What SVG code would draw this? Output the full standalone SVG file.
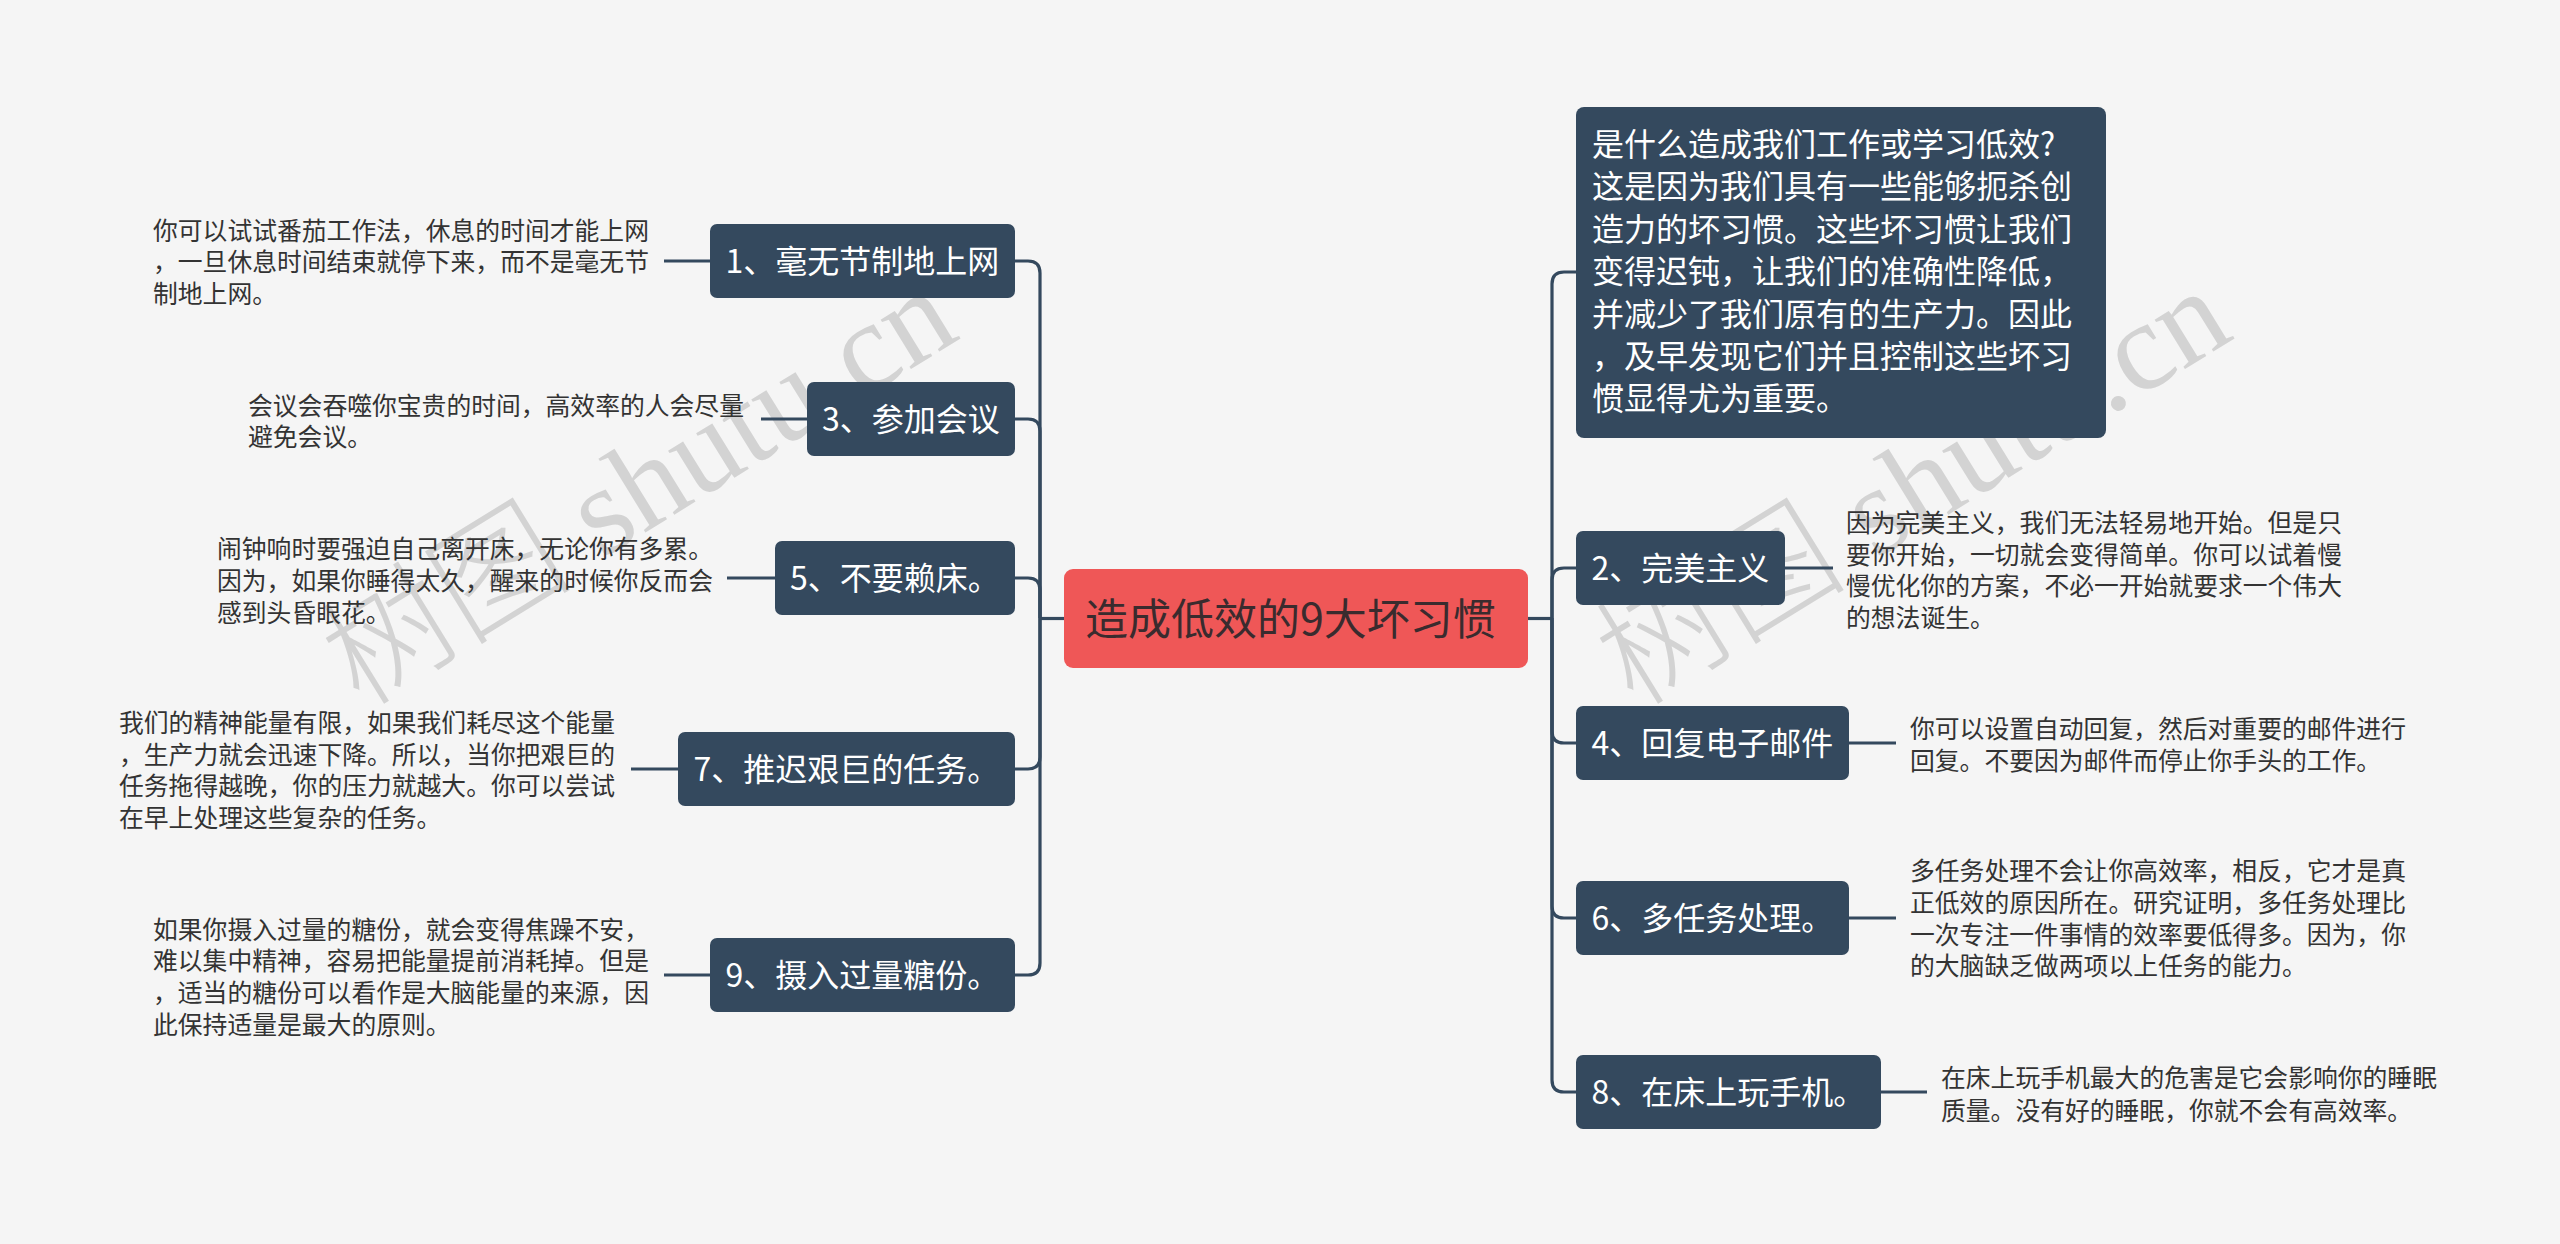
<svg xmlns="http://www.w3.org/2000/svg" width="2560" height="1244" viewBox="0 0 2560 1244">
<style>
.bg{fill:#f5f5f5}
.node rect{fill:#34495e}
.nt{font-family:"Noto Sans CJK SC","Noto Sans",sans-serif;font-size:32px;fill:#ffffff}
.leaf{font-family:"Noto Sans CJK SC","Noto Sans",sans-serif;font-size:24.8px;fill:#333333}
.conn path{fill:none;stroke:#34495e;stroke-width:3.2;stroke-linecap:butt}
.wm{font-family:"Liberation Serif","Noto Sans CJK SC",serif;font-size:126px;fill:#d3d3d3;font-weight:300}
</style>
<rect class="bg" x="0" y="0" width="2560" height="1244"/>
<g id="watermark">
<text class="wm" transform="translate(360,708) rotate(-31.6)">树图 shutu.cn</text>
<text class="wm" transform="translate(1634,708) rotate(-31.6)">树图 shutu.cn</text>
</g>
<g id="connectors" class="conn">
<path d="M1064,618.5 H1040"/>
<path d="M1040,618 V273 Q1040,261 1028,261 H1015"/>
<path d="M1040,618 V431 Q1040,419 1028,419 H1015"/>
<path d="M1040,618 V590 Q1040,578 1028,578 H1015"/>
<path d="M1040,618 V757 Q1040,769 1028,769 H1015"/>
<path d="M1040,618 V963 Q1040,975 1028,975 H1015"/>
<path d="M1528,618.5 H1552"/>
<path d="M1552,618 V284 Q1552,272 1564,272 H1576"/>
<path d="M1552,618 V580 Q1552,568 1564,568 H1576"/>
<path d="M1552,618 V731 Q1552,743 1564,743 H1576"/>
<path d="M1552,618 V906 Q1552,918 1564,918 H1576"/>
<path d="M1552,618 V1080 Q1552,1092 1564,1092 H1576"/>
<path d="M710,261 H664"/>
<path d="M807,419 H761"/>
<path d="M775,578 H727"/>
<path d="M678,769 H631"/>
<path d="M710,975 H664"/>
<path d="M1785,568 H1833"/>
<path d="M1849,743 H1896"/>
<path d="M1849,918 H1896"/>
<path d="M1881,1092 H1927"/>
</g>
<g id="root">
<rect x="1064" y="569" width="464" height="99" rx="9" fill="#ef5757"/>
<text x="1085" y="634.5" font-family="'Noto Sans CJK SC','Noto Sans',sans-serif" font-size="43" fill="#3a2b2e">造成低效的9大坏习惯</text>
</g>
<g id="n1" class="node"><rect x="710" y="224" width="305" height="74" rx="7"/><text class="nt" x="862.5" y="273" text-anchor="middle">1、毫无节制地上网</text></g>
<g id="n3" class="node"><rect x="807" y="382" width="208" height="74" rx="7"/><text class="nt" x="911" y="431" text-anchor="middle">3、参加会议</text></g>
<g id="n5" class="node"><rect x="775" y="541" width="240" height="74" rx="7"/><text class="nt" x="895" y="590" text-anchor="middle">5、不要赖床。</text></g>
<g id="n7" class="node"><rect x="678" y="732" width="337" height="74" rx="7"/><text class="nt" x="846.5" y="781" text-anchor="middle">7、推迟艰巨的任务。</text></g>
<g id="n9" class="node"><rect x="710" y="938" width="305" height="74" rx="7"/><text class="nt" x="862.5" y="987" text-anchor="middle">9、摄入过量糖份。</text></g>
<g id="desc" class="node"><rect x="1576" y="107" width="530" height="331" rx="8"/>
<text class="nt"><tspan x="1592" y="156">是什么造成我们工作或学习低效?</tspan><tspan x="1592" y="198.4">这是因为我们具有一些能够扼杀创</tspan><tspan x="1592" y="240.8">造力的坏习惯。这些坏习惯让我们</tspan><tspan x="1592" y="283.2">变得迟钝，让我们的准确性降低，</tspan><tspan x="1592" y="325.6">并减少了我们原有的生产力。因此</tspan><tspan x="1592" y="368">，及早发现它们并且控制这些坏习</tspan><tspan x="1592" y="410.4">惯显得尤为重要。</tspan></text></g>
<g id="n2" class="node"><rect x="1576" y="531" width="209" height="74" rx="7"/><text class="nt" x="1680.5" y="580" text-anchor="middle">2、完美主义</text></g>
<g id="n4" class="node"><rect x="1576" y="706" width="273" height="74" rx="7"/><text class="nt" x="1712.5" y="755" text-anchor="middle">4、回复电子邮件</text></g>
<g id="n6" class="node"><rect x="1576" y="881" width="273" height="74" rx="7"/><text class="nt" x="1712.5" y="930" text-anchor="middle">6、多任务处理。</text></g>
<g id="n8" class="node"><rect x="1576" y="1055" width="305" height="74" rx="7"/><text class="nt" x="1728.5" y="1104" text-anchor="middle">8、在床上玩手机。</text></g>
<g id="leaf1"><text class="leaf"><tspan x="153" y="240">你可以试试番茄工作法，休息的时间才能上网</tspan><tspan x="153" y="271.2">，一旦休息时间结束就停下来，而不是毫无节</tspan><tspan x="153" y="302.8">制地上网。</tspan></text></g>
<g id="leaf3"><text class="leaf"><tspan x="248" y="415.2">会议会吞噬你宝贵的时间，高效率的人会尽量</tspan><tspan x="248" y="446.4">避免会议。</tspan></text></g>
<g id="leaf5"><text class="leaf"><tspan x="217" y="558.4">闹钟响时要强迫自己离开床，无论你有多累。</tspan><tspan x="217" y="590.1">因为，如果你睡得太久，醒来的时候你反而会</tspan><tspan x="217" y="621.7">感到头昏眼花。</tspan></text></g>
<g id="leaf7"><text class="leaf"><tspan x="119" y="731.9">我们的精神能量有限，如果我们耗尽这个能量</tspan><tspan x="119" y="763.6">，生产力就会迅速下降。所以，当你把艰巨的</tspan><tspan x="119" y="795.2">任务拖得越晚，你的压力就越大。你可以尝试</tspan><tspan x="119" y="826.9">在早上处理这些复杂的任务。</tspan></text></g>
<g id="leaf9"><text class="leaf"><tspan x="153" y="938.6">如果你摄入过量的糖份，就会变得焦躁不安，</tspan><tspan x="153" y="970.2">难以集中精神，容易把能量提前消耗掉。但是</tspan><tspan x="153" y="1001.9">，适当的糖份可以看作是大脑能量的来源，因</tspan><tspan x="153" y="1033.6">此保持适量是最大的原则。</tspan></text></g>
<g id="leaf2"><text class="leaf"><tspan x="1846" y="531.9">因为完美主义，我们无法轻易地开始。但是只</tspan><tspan x="1846" y="563.6">要你开始，一切就会变得简单。你可以试着慢</tspan><tspan x="1846" y="595.2">慢优化你的方案，不必一开始就要求一个伟大</tspan><tspan x="1846" y="626.9">的想法诞生。</tspan></text></g>
<g id="leaf4"><text class="leaf"><tspan x="1910" y="737.7">你可以设置自动回复，然后对重要的邮件进行</tspan><tspan x="1910" y="770.2">回复。不要因为邮件而停止你手头的工作。</tspan></text></g>
<g id="leaf6"><text class="leaf"><tspan x="1910" y="880.2">多任务处理不会让你高效率，相反，它才是真</tspan><tspan x="1910" y="911.9">正低效的原因所在。研究证明，多任务处理比</tspan><tspan x="1910" y="943.6">一次专注一件事情的效率要低得多。因为，你</tspan><tspan x="1910" y="975.3">的大脑缺乏做两项以上任务的能力。</tspan></text></g>
<g id="leaf8"><text class="leaf"><tspan x="1941" y="1086.9">在床上玩手机最大的危害是它会影响你的睡眠</tspan><tspan x="1941" y="1120.2">质量。没有好的睡眠，你就不会有高效率。</tspan></text></g>
</svg>
